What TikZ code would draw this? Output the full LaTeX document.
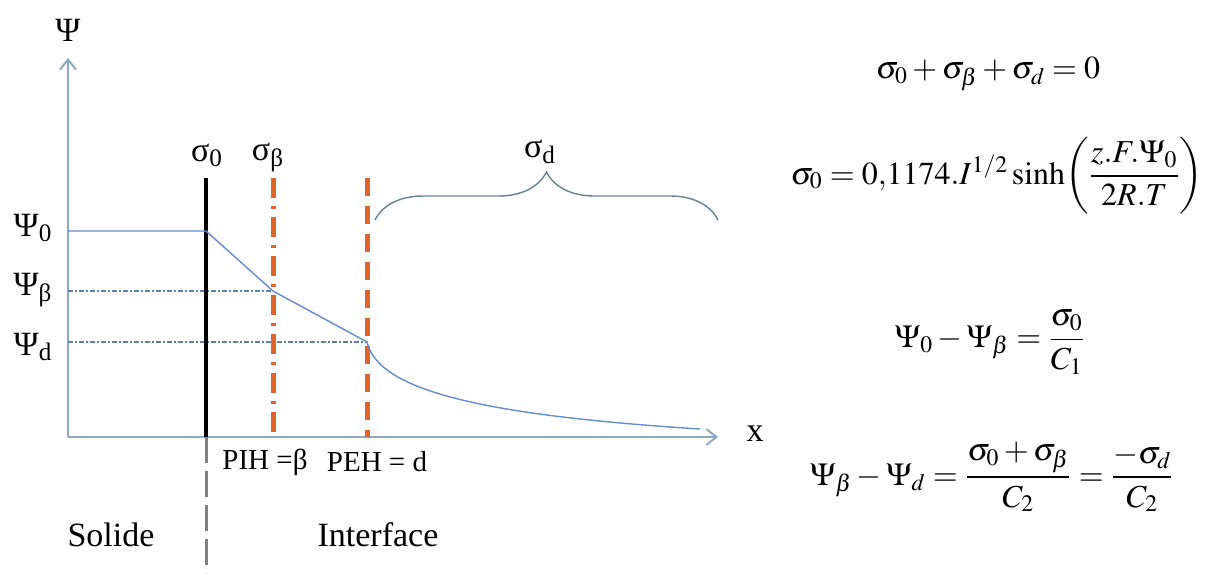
\documentclass[tikz,border=0pt]{standalone}
\usepackage{amsmath}
\usepackage{mathptmx}
\usepackage[no-math]{fontspec}
\setmainfont{Liberation Serif}
\newfontfamily\lblfont{Liberation Serif}
\usepackage{xcolor}
\usetikzlibrary{arrows.meta,decorations.pathreplacing}
\definecolor{axisblue}{RGB}{140,170,195}
\definecolor{curveblue}{RGB}{100,140,210}
\definecolor{dotblue}{RGB}{90,130,170}
\definecolor{planeorange}{RGB}{225,100,45}
\definecolor{bracegray}{RGB}{100,130,150}
\tikzset{
  % axes and potential profile
  axis/.style={draw=axisblue,line width=1pt,-{Straight Barb[length=5pt,width=8pt]}},
  profile/.style={draw=curveblue,line width=0.7pt},
  level/.style={draw=dotblue,line width=1pt,dash pattern=on 2.5pt off 1pt on 1pt off 1pt},
  % the three planes
  plane0/.style={draw=black,line width=2pt},
  planeb/.style={draw=planeorange,line width=2.5pt,dash pattern=on 10pt off 4pt on 1.5pt off 4pt},
  planed/.style={draw=planeorange,line width=2.5pt,dash pattern=on 9pt off 5pt},
  border/.style={draw=gray,line width=1.5pt,dash pattern=on 13pt off 4pt},
  lbl/.style={inner sep=1pt,font=\lblfont\fontsize{17}{20}\selectfont},
  smalllbl/.style={inner sep=1pt,font=\lblfont\fontsize{14.5}{18}\selectfont},
  eqn/.style={inner sep=1pt,font=\fontsize{16}{20}\selectfont},
}

\begin{document}
\begin{tikzpicture}[x=0.5pt,y=-0.5pt]
    \useasboundingbox (0,0) rectangle (1208,578);
    %axes
    \coordinate (O) at (68,437);
    \coordinate (ytop) at (68,58);
    \coordinate (xend) at (718,437);
    \draw[axis] (O) -- (ytop);
    \draw[axis] (O) -- (xend);
    \node[lbl] (psi) at (68,30) {Ψ};
    \node[lbl] (xlab) at (755,434) {x};

    \coordinate (s0top) at (206,178);
    \coordinate (s0bot) at (206,437);
    \coordinate (s0end) at (206,573);
    \coordinate (sbtop) at (273,178);
    \coordinate (sbbot) at (273,437);
    \coordinate (sdtop) at (367,178);
    \coordinate (sdbot) at (367,437);

    \coordinate (p0) at (68,231);
    \coordinate (p0s) at (206,231);
    \coordinate (pb) at (273,291);
    \coordinate (pd) at (367,342);
    \coordinate (pend) at (700,429);
    \coordinate (lb) at (68,291);
    \coordinate (ld) at (68,342);

    \begin{scope}
    \draw[level] (lb) -- (pb);
    \draw[level] (ld) -- (pd);
    \draw[plane0] (s0top) -- (s0bot);
    \draw[border] (s0bot) -- (s0end);
    \draw[planeb] (sbtop) -- (sbbot);
    \draw[planed] (sdtop) -- (sdbot);
    \draw[profile] (p0) -- (p0s) -- (pb) -- (pd)
        .. controls (378,390) and (480,415) .. (pend);
    \end{scope}

    \coordinate (brl) at (375,220);
    \coordinate (brr) at (718,220);
    \draw[bracegray,line width=0.7pt,decorate,
        decoration={brace,amplitude=24pt,aspect=0.5}] (brl) -- (brr);

    \node[lbl] (psi0) at (33,228) {Ψ\textsubscript{0}};
    \node[lbl] (psib) at (33,290) {Ψ\textsubscript{β}};
    \node[lbl] (psid) at (33,347) {Ψ\textsubscript{d}};
    \node[lbl] (sig0) at (207,155) {σ\textsubscript{0}};
    \node[lbl] (sigb) at (268,157) {σ\textsubscript{β}};
    \node[lbl] (sigd) at (540,152) {σ\textsubscript{d}};
    \node[smalllbl] (pih) at (265,462) {PIH =β};
    \node[smalllbl] (peh) at (377,462) {PEH = d};
    \node[lbl] (solid) at (111,535) {Solide};
    \node[lbl] (inter) at (378,535) {Interface};

    \node[eqn] (eq1) at (988,74) {$\sigma_0+\sigma_\beta+\sigma_d=0$};
    \node[eqn] (eq2) at (997,176) {$\sigma_0=0{,}1174.I^{1/2}\sinh\!\left(\dfrac{z.F.\Psi_0}{2R.T}\right)$};
    \node[eqn] (eq3) at (990,342) {$\Psi_0-\Psi_\beta=\dfrac{\sigma_0}{C_1}$};
    \node[eqn] (eq4) at (992,477) {$\Psi_\beta-\Psi_d=\dfrac{\sigma_0+\sigma_\beta}{C_2}=\dfrac{-\sigma_d}{C_2}$};
\end{tikzpicture}
\end{document}
